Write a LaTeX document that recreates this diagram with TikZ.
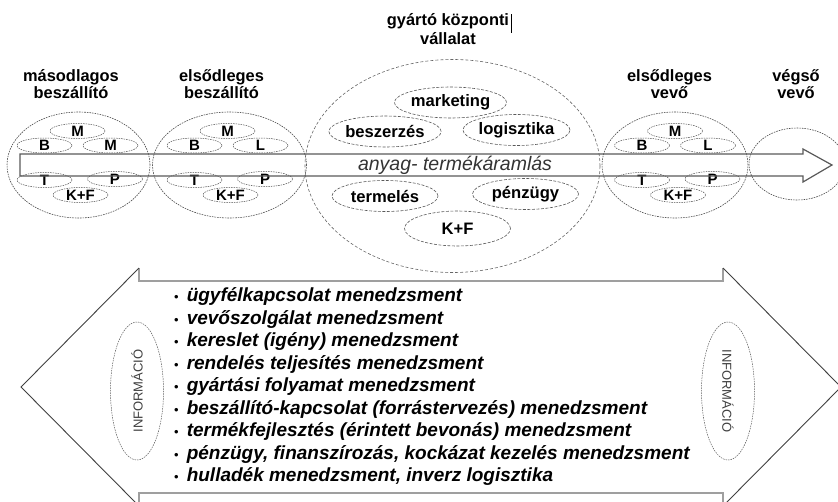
\documentclass[tikz,border=0pt]{standalone}
\usepackage{fontspec}
\setmainfont{Liberation Sans}
\usetikzlibrary{shapes.geometric,matrix}

\begin{document}
\begin{tikzpicture}[x=1pt, y=-1pt,
    every node/.style={inner sep=0pt},
    actor/.style={font=\fontsize{16.4}{17}\selectfont\bfseries, align=center, anchor=north},
    unit/.style={ellipse, draw=gray!60!black, dash pattern=on 1.6pt off 1pt, line width=0.6pt},
    part/.style={ellipse, draw=gray!60!black, dash pattern=on 1.5pt off 1pt, line width=0.5pt,
                 minimum width=55, minimum height=15, font=\fontsize{15}{15}\selectfont\bfseries},
    dept/.style={ellipse, draw=black!65, dash pattern=on 3pt off 1.5pt, line width=0.6pt,
                 minimum width=106, minimum height=31, font=\fontsize{16.6}{17}\selectfont\bfseries},
    info/.style={ellipse, draw=gray!70!black, dash pattern=on 1.5pt off 1pt, line width=0.5pt,
                 minimum width=138, minimum height=53, font=\fontsize{13}{14}\selectfont, text=black!75},
    flow/.style={draw=gray!70!black, line width=1.2pt},
    shaft/.style={draw=gray!75, line width=1.3pt},
    head/.style={draw=black!75, line width=0.9pt}
]
    \useasboundingbox (0,0) rectangle (838,501);
    \clip (0,0) rectangle (838,501);

    \node[actor, font=\fontsize{16.4}{19}\selectfont\bfseries] (cim) at (448,13) {gyártó központi\\vállalat};
    \draw[line width=0.8pt] (511,14) -- (511,33);
    \node[actor] (l-masod) at (71,69) {másodlagos\\beszállító};
    \node[actor] (l-elso) at (221.5,69) {elsődleges\\beszállító};
    \node[actor] (l-vevo) at (669.5,69) {elsődleges\\vevő};
    \node[actor] (l-vegso) at (796,69) {végső\\vevő};

    \node[unit, minimum width=143, minimum height=106] (masod) at (78.5,165) {};
    \node[unit, minimum width=154, minimum height=106] (elso) at (229.5,165) {};
    \node[unit, draw=black!60, dash pattern=on 3pt off 2pt, minimum width=295, minimum height=213] (kozp) at (452.5,166) {};
    \node[unit, minimum width=146, minimum height=106] (vevo) at (675,165) {};
    \node[unit, minimum width=96, minimum height=72] (vegso) at (797,164) {};

    \node[part] (masod-m) at (77.5,131) {M};
    \node[part] (masod-b) at (44.5,145.5) {B};
    \node[part] (masod-m2) at (110.5,145.5) {M};
    \node[part] (masod-t) at (44.5,180) {T};
    \node[part] (masod-p) at (115,179) {P};
    \node[part] (masod-kf) at (80.5,195) {K+F};

    \node[part] (elso-m) at (227.5,131) {M};
    \node[part] (elso-b) at (194.5,145.5) {B};
    \node[part] (elso-l) at (260.5,145.5) {L};
    \node[part] (elso-t) at (194.5,180) {T};
    \node[part] (elso-p) at (265,179) {P};
    \node[part] (elso-kf) at (230.5,195) {K+F};

    \node[part] (vevo-m) at (675,131) {M};
    \node[part] (vevo-b) at (642,145.5) {B};
    \node[part] (vevo-l) at (708,145.5) {L};
    \node[part] (vevo-t) at (642,180) {T};
    \node[part] (vevo-p) at (712.5,179) {P};
    \node[part] (vevo-kf) at (678,195) {K+F};

    \node[dept] (marketing) at (450.5,102.5) {marketing};
    \node[dept] (beszerzes) at (385,131.5) {beszerzés};
    \node[dept] (logisztika) at (516.5,130) {logisztika};
    \node[dept] (termeles) at (385,196) {termelés};
    \node[dept] (penzugy) at (525.5,194) {pénzügy};
    \node[dept, minimum height=35] (kf) at (457.5,228.5) {K+F};

    \draw[flow] (20,154) -- (803,154) -- (803,149) -- (832,165) -- (803,182) -- (803,176) -- (20,176) -- cycle;
    \node[font=\fontsize{19.5}{20}\selectfont\itshape, text=black!80] (anyag) at (455,165) {anyag- termékáramlás};

    \draw[shaft] (139,268) -- (139,281) -- (723,281) -- (723,268);
    \draw[shaft] (139,506) -- (139,493) -- (723,493) -- (723,506);
    \draw[head] (139,268) -- (21,387) -- (139,506);
    \draw[head] (723,268) -- (841,387) -- (723,506);

    \node[info, rotate=90] (info-bal) at (137,391) {INFORMÁCIÓ};
    \node[info, rotate=-90] (info-jobb) at (728,391) {INFORMÁCIÓ};

    \matrix[matrix of nodes, anchor=north west, column sep=8pt,
            nodes={anchor=west, text height=14pt, text depth=4.5pt, inner ysep=2pt},
            column 1/.style={nodes={font=\fontsize{13}{14}\selectfont}},
            column 2/.style={nodes={font=\fontsize{19}{22}\selectfont\bfseries\itshape}}
    ] (lista) at (174,285.75) {
      • & ügyfélkapcsolat menedzsment \\
      • & vevőszolgálat menedzsment \\
      • & kereslet (igény) menedzsment \\
      • & rendelés teljesítés menedzsment \\
      • & gyártási folyamat menedzsment \\
      • & beszállító-kapcsolat (forrástervezés) menedzsment \\
      • & termékfejlesztés (érintett bevonás) menedzsment \\
      • & pénzügy, finanszírozás, kockázat kezelés menedzsment \\
      • & hulladék menedzsment, inverz logisztika \\
    };
\end{tikzpicture}
\end{document}
